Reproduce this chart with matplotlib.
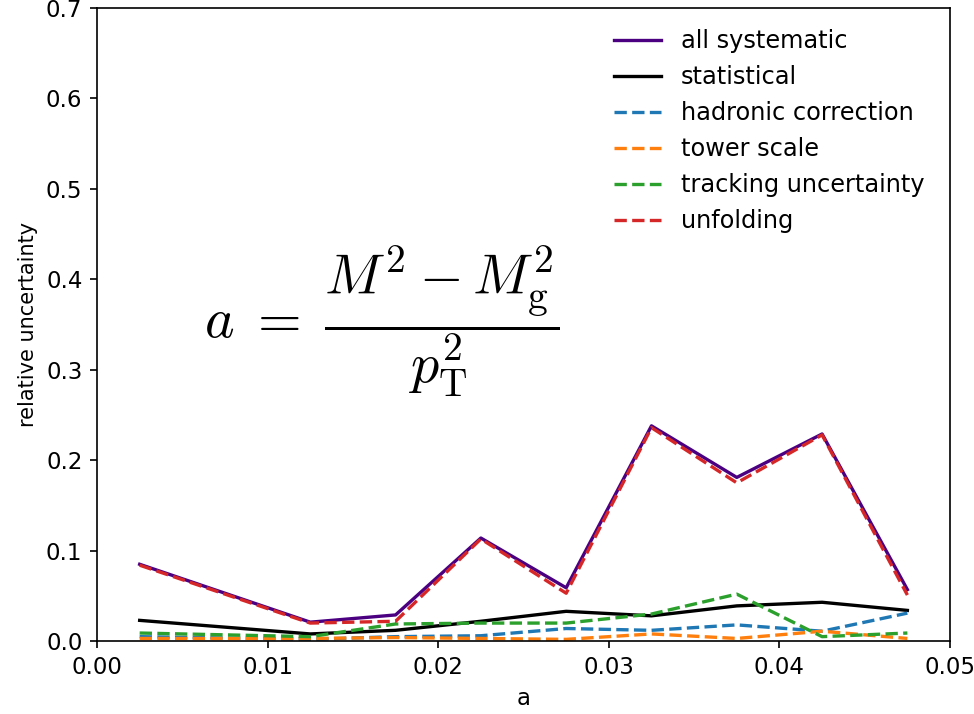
import matplotlib
matplotlib.use('Agg')
import matplotlib.pyplot as plt

plt.rcParams['mathtext.fontset'] = 'cm'

# bin centres in a
a_bins = [0.0025, 0.0125, 0.0175, 0.0225, 0.0275, 0.0325, 0.0375, 0.0425, 0.0475]

# relative uncertainties per source
all_syst = [0.085, 0.021, 0.029, 0.114, 0.059, 0.238, 0.181, 0.229, 0.057]
statistical = [0.023, 0.008, 0.012, 0.022, 0.033, 0.028, 0.039, 0.043, 0.034]
hadronic = [0.005, 0.002, 0.005, 0.006, 0.014, 0.012, 0.018, 0.011, 0.031]
tower = [0.003, 0.003, 0.004, 0.003, 0.002, 0.008, 0.003, 0.011, 0.003]
tracking = [0.009, 0.005, 0.019, 0.020, 0.020, 0.030, 0.052, 0.005, 0.009]
unfolding = [0.084, 0.020, 0.022, 0.113, 0.053, 0.236, 0.175, 0.228, 0.051]

fig = plt.figure(figsize=(974 / 150, 714 / 150), dpi=150)
ax = fig.add_axes([0.0996, 0.102, 0.8758, 0.887])

ax.plot(a_bins, all_syst, color='indigo', lw=1.6, label='all systematic')
ax.plot(a_bins, statistical, color='black', lw=1.6, label='statistical')
ax.plot(a_bins, hadronic, '--', color='tab:blue', lw=1.6, label='hadronic correction')
ax.plot(a_bins, tower, '--', color='tab:orange', lw=1.6, label='tower scale')
ax.plot(a_bins, tracking, '--', color='tab:green', lw=1.6, label='tracking uncertainty')
ax.plot(a_bins, unfolding, '--', color='tab:red', lw=1.6, label='unfolding')

ax.set_xlim(0, 0.05)
ax.set_ylim(0, 0.7)
ax.tick_params(labelsize=11)
ax.set_xlabel('a', fontsize=11)
ax.set_ylabel('relative uncertainty')
ax.legend(frameon=False, loc='upper right', fontsize=11.5,
          bbox_to_anchor=(0.995, 1.0))

ax.text(0.0167, 0.353, r'$a\;=\;\dfrac{M^2 - M_{\rm g}^2}{p_{\rm T}^2}$',
        fontsize=27, ha='center', va='center')

fig.savefig('out.png', dpi=150)
